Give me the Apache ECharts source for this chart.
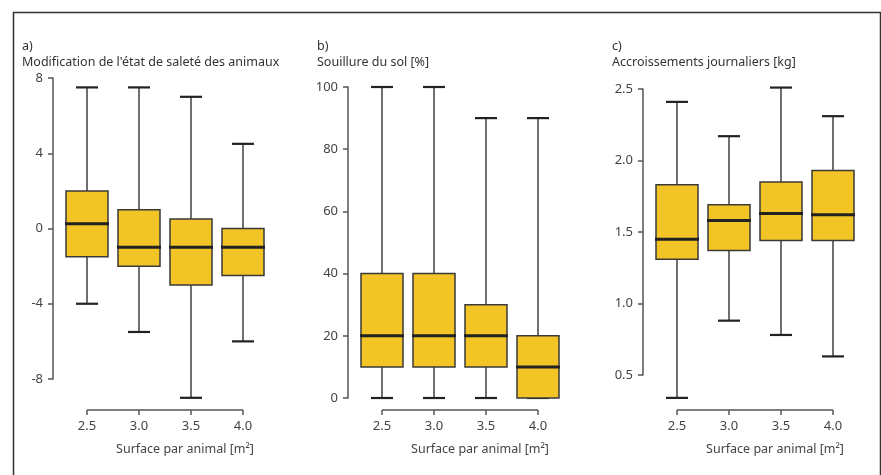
<!DOCTYPE html>
<html>
<head>
<meta charset="utf-8">
<script src="https://cdn.jsdelivr.net/npm/echarts@6/dist/echarts.min.js"></script>
<style>
  html, body { margin: 0; padding: 0; background: #fff; }
  #chart { width: 881px; height: 475px; }
</style>
</head>
<body>
<div id="chart"></div>
<script>
// Surface per animal (m²) — shared categories for all three panels
const surfaces = ['2.5', '3.0', '3.5', '4.0'];

// Five-number summaries per surface: [low whisker, Q1, median, Q3, high whisker]
const dirtChange = [
  [-4, -1.5, 0.25, 2, 7.5],
  [-5.5, -2, -1, 1, 7.5],
  [-9, -3, -1, 0.5, 7],
  [-6, -2.5, -1, 0, 4.5]
];
const floorSoiling = [
  [0, 10, 20, 40, 100],
  [0, 10, 20, 40, 100],
  [0, 10, 20, 30, 90],
  [0, 0, 10, 20, 90]
];
const dailyGain = [
  [0.34, 1.31, 1.45, 1.83, 2.41],
  [0.88, 1.37, 1.58, 1.69, 2.17],
  [0.78, 1.44, 1.63, 1.85, 2.51],
  [0.63, 1.44, 1.62, 1.93, 2.31]
];

// Y-axis ranges and tick steps per panel
const dirtAxis = { min: -8, max: 8, step: 4 };
const soilAxis = { min: 0, max: 100, step: 20 };
const gainAxis = { min: 0.5, max: 2.5, step: 0.5 };

const panelTitles = [
  'a)\nModification de l\'état de saleté des animaux',
  'b)\nSouillure du sol [%]',
  'c)\nAccroissements journaliers [kg]'
];
const xTitle = 'Surface par animal [m²]';

const FONT = '"Noto Sans", "Open Sans", sans-serif';
const AXIS_COLOR = '#555';
const LABEL_COLOR = '#444';
const BOX_FILL = '#F2C425';

// Plot area geometry: left/top = first box centre / top tick, height spans min..max ticks
const panels = [
  { left: 87, top: 78, height: 301, xOffset: 31, axis: dirtAxis, data: dirtChange, dec: 0 },
  { left: 382, top: 87, height: 311, xOffset: 12, axis: soilAxis, data: floorSoiling, dec: 0 },
  { left: 677, top: 89, height: 286, xOffset: 35, axis: gainAxis, data: dailyGain, dec: 1 }
];
const titleLeft = [22, 317, 612];

// Box with half-width whisker caps and a heavy median bar; the first item
// also draws the detached category baseline below the plot (R-style axis).
function makeRenderer(panel) {
  return function (params, api) {
    const x = api.value(0);
    const lo = api.coord([x, api.value(1)]);
    const q1 = api.coord([x, api.value(2)]);
    const md = api.coord([x, api.value(3)]);
    const q3 = api.coord([x, api.value(4)]);
    const hi = api.coord([x, api.value(5)]);
    const cx = lo[0];
    const bw = 42, cw = 22;
    const children = [
      { type: 'line', shape: { x1: cx, y1: hi[1], x2: cx, y2: lo[1] },
        style: { stroke: '#222', lineWidth: 1.3 } },
      { type: 'line', shape: { x1: cx - cw / 2, y1: hi[1], x2: cx + cw / 2, y2: hi[1] },
        style: { stroke: '#222', lineWidth: 2.2 } },
      { type: 'line', shape: { x1: cx - cw / 2, y1: lo[1], x2: cx + cw / 2, y2: lo[1] },
        style: { stroke: '#222', lineWidth: 2.2 } },
      { type: 'rect', shape: { x: cx - bw / 2, y: q3[1], width: bw, height: q1[1] - q3[1] },
        style: { fill: BOX_FILL, stroke: '#3a3a3a', lineWidth: 1.5 } },
      { type: 'line', shape: { x1: cx - bw / 2 - 1, y1: md[1], x2: cx + bw / 2 + 1, y2: md[1] },
        style: { stroke: '#222', lineWidth: 3 } }
    ];
    if (params.dataIndex === 0) {
      const first = api.coord([0, panel.axis.min]);
      const last = api.coord([surfaces.length - 1, panel.axis.min]);
      const y = first[1] + panel.xOffset;
      children.push({ type: 'line', shape: { x1: first[0], y1: y, x2: last[0], y2: y },
        style: { stroke: AXIS_COLOR, lineWidth: 1.5 } });
    }
    return { type: 'group', children: children };
  };
}

const option = {
  backgroundColor: '#fff',
  animation: false,
  textStyle: { fontFamily: FONT },
  title: panelTitles.map((t, i) => ({
    text: t, left: titleLeft[i], top: 38, padding: 0,
    textStyle: { fontFamily: FONT, fontSize: 12.5, fontWeight: 'normal', color: '#333', lineHeight: 16 }
  })),
  graphic: [{
    type: 'rect', left: 11, top: 10,
    shape: { width: 867, height: 480 },
    style: { fill: 'none', stroke: '#333', lineWidth: 1.5 }, silent: true
  }],
  grid: panels.map(p => ({ left: p.left, top: p.top, width: 156, height: p.height })),
  xAxis: panels.map((p, i) => ({
    type: 'category', gridIndex: i, data: surfaces, boundaryGap: false,
    position: 'bottom', offset: p.xOffset,
    axisLine: { show: false, onZero: false },
    axisTick: { show: true, length: 5, lineStyle: { color: AXIS_COLOR, width: 1.5 } },
    axisLabel: { color: LABEL_COLOR, fontFamily: FONT, fontSize: 13, margin: 10 },
    splitLine: { show: false },
    name: xTitle, nameLocation: 'middle', nameGap: 33,
    nameTextStyle: { color: LABEL_COLOR, fontFamily: FONT, fontSize: 12.5, padding: [0, 0, 0, 40] }
  })),
  yAxis: panels.map((p, i) => ({
    type: 'value', gridIndex: i, min: p.axis.min, max: p.axis.max, interval: p.axis.step,
    offset: 34,
    axisLine: { show: true, lineStyle: { color: AXIS_COLOR, width: 1.5 } },
    axisTick: { show: true, length: 5, lineStyle: { color: AXIS_COLOR, width: 1.5 } },
    axisLabel: {
      color: LABEL_COLOR, fontFamily: FONT, fontSize: 13, margin: 10,
      formatter: v => v.toFixed(p.dec)
    },
    splitLine: { show: false }
  })),
  series: panels.map((p, i) => ({
    type: 'custom', xAxisIndex: i, yAxisIndex: i,
    renderItem: makeRenderer(p),
    encode: { x: 0, y: [1, 2, 3, 4, 5] },
    data: p.data.map((row, k) => [k].concat(row))
  }))
};

const chart = echarts.init(document.getElementById('chart'), null, { renderer: 'canvas' });
chart.setOption(option);
</script>
</body>
</html>
